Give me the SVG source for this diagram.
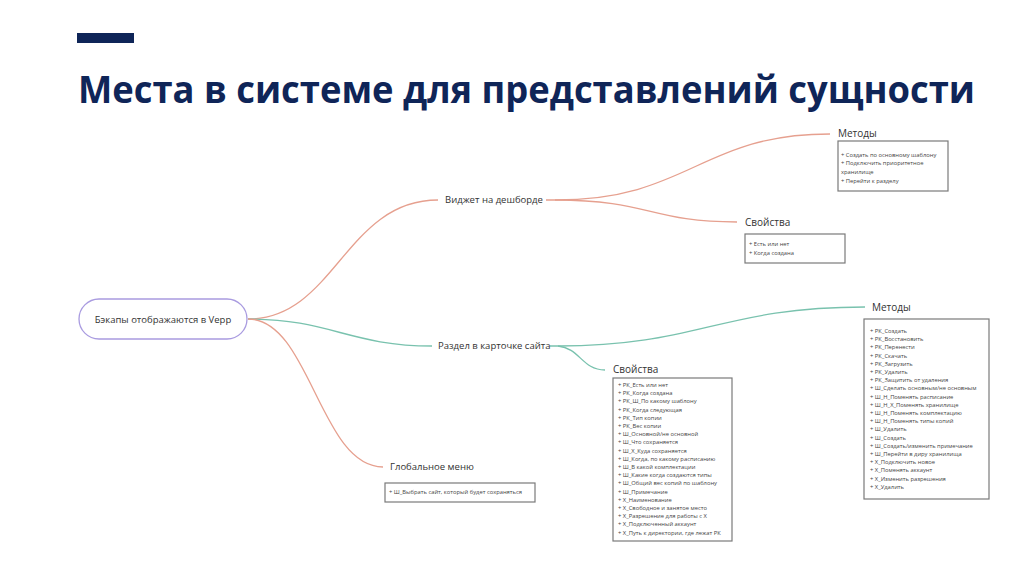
<svg xmlns="http://www.w3.org/2000/svg" width="1024" height="576" viewBox="0 0 1024 576">
<style>
.title{font-family:"Open Sans","Liberation Sans",sans-serif;font-weight:700;font-size:37px;fill:#0f2558}
.lbl{font-family:"Open Sans","Liberation Sans",sans-serif;font-size:9.5px;fill:#333}
.sub{font-family:"Open Sans","Liberation Sans",sans-serif;font-size:10px;fill:#333}
.it{font-family:"Open Sans","Liberation Sans",sans-serif;font-size:5.8px;fill:#444}
.box{fill:#fff;stroke:#7a7a7a;stroke-width:1.2}
.red{fill:none;stroke:#e6a08f;stroke-width:1.3}
.grn{fill:none;stroke:#79c2ae;stroke-width:1.3}
</style>
<rect width="1024" height="576" fill="#fff"/>
<rect x="77" y="33" width="57" height="10" fill="#0f2558"/>
<text class="title" x="78" y="103" textLength="897" lengthAdjust="spacingAndGlyphs">Места в системе для представлений сущности</text>

<g id="connectors">
<path class="red" d="M248,319 C335,319 345,200 438,200"/>
<path class="grn" d="M248,319 C330,319 350,346 432,346"/>
<path class="red" d="M248,319 C310,319 320,467 383,467"/>
<path class="red" d="M546,200 L555,200 C690,200 700,134 830,134"/>
<path class="red" d="M555,200 C650,200 650,222 737,222"/>
<path class="grn" d="M550,346 L558,346 C700,346 720,307 865,307"/>
<path class="grn" d="M558,346 C580,348 582,370 605,370"/>
</g>

<g id="root">
<rect x="79" y="299" width="168" height="40" rx="20" ry="20" fill="#fff" stroke="#a99be0" stroke-width="1.3"/>
<text class="lbl" x="163" y="323" text-anchor="middle">Бэкапы отображаются в Vepp</text>
</g>

<g id="widget">
<text class="lbl" x="445" y="203">Виджет на дешборде</text>
</g>
<g id="razdel">
<text class="lbl" x="438" y="349">Раздел в карточке сайта</text>
</g>
<g id="global">
<text class="lbl" x="390" y="470">Глобальное меню</text>
<rect class="box" x="385" y="483" width="150" height="19"/>
<text class="it" x="389" y="494">+ Ш_Выбрать сайт, который будет сохраняться</text>
</g>

<g id="widget-methods">
<text class="sub" x="838" y="137">Методы</text>
<rect class="box" x="838" y="141" width="110" height="50"/>
<text class="it" x="841" y="157">+ Создать по основному шаблону</text>
<text class="it" x="841" y="165">+ Подключить приоритетное</text>
<text class="it" x="841" y="174">хранилище</text>
<text class="it" x="841" y="183">+ Перейти к разделу</text>
</g>

<g id="widget-props">
<text class="sub" x="745" y="226">Свойства</text>
<rect class="box" x="745" y="234" width="100" height="29"/>
<text class="it" x="749" y="246">+ Есть или нет</text>
<text class="it" x="749" y="255">+ Когда создана</text>
</g>

<g id="razdel-methods">
<text class="sub" x="872" y="311">Методы</text>
<rect class="box" x="864" y="319" width="125" height="180"/>
<text class="it" x="870" y="333">+ РК_Создать</text>
<text class="it" x="870" y="341.2">+ РК_Восстановить</text>
<text class="it" x="870" y="349.4">+ РК_Перенести</text>
<text class="it" x="870" y="357.6">+ РК_Скачать</text>
<text class="it" x="870" y="365.8">+ РК_Загрузить</text>
<text class="it" x="870" y="374">+ РК_Удалить</text>
<text class="it" x="870" y="382.2">+ РК_Защитить от удаления</text>
<text class="it" x="870" y="390.4">+ Ш_Сделать основным/не основным</text>
<text class="it" x="870" y="398.6">+ Ш_Н_Поменять расписание</text>
<text class="it" x="870" y="406.8">+ Ш_Н_Х_Поменять хранилище</text>
<text class="it" x="870" y="415">+ Ш_Н_Поменять комплектацию</text>
<text class="it" x="870" y="423.2">+ Ш_Н_Поменять типы копий</text>
<text class="it" x="870" y="431.4">+ Ш_Удалить</text>
<text class="it" x="870" y="439.6">+ Ш_Создать</text>
<text class="it" x="870" y="447.8">+ Ш_Создать/изменить примечание</text>
<text class="it" x="870" y="456">+ Ш_Перейти в диру хранилища</text>
<text class="it" x="870" y="464.2">+ Х_Подключить новое</text>
<text class="it" x="870" y="472.4">+ Х_Поменять аккаунт</text>
<text class="it" x="870" y="480.6">+ Х_Изменить разрешения</text>
<text class="it" x="870" y="488.8">+ Х_Удалить</text>
</g>

<g id="razdel-props">
<text class="sub" x="613" y="373">Свойства</text>
<rect class="box" x="613" y="378" width="119" height="163"/>
<text class="it" x="618" y="387">+ РК_Есть или нет</text>
<text class="it" x="618" y="395.2">+ РК_Когда создана</text>
<text class="it" x="618" y="403.4">+ РК_Ш_По какому шаблону</text>
<text class="it" x="618" y="411.6">+ РК_Когда следующая</text>
<text class="it" x="618" y="419.8">+ РК_Тип копии</text>
<text class="it" x="618" y="428">+ РК_Вес копии</text>
<text class="it" x="618" y="436.2">+ Ш_Основной/не основной</text>
<text class="it" x="618" y="444.4">+ Ш_Что сохраняется</text>
<text class="it" x="618" y="452.6">+ Ш_Х_Куда сохраняется</text>
<text class="it" x="618" y="460.8">+ Ш_Когда, по какому расписанию</text>
<text class="it" x="618" y="469">+ Ш_В какой комплектации</text>
<text class="it" x="618" y="477.2">+ Ш_Какие когда создаются типы</text>
<text class="it" x="618" y="485.4">+ Ш_Общий вес копий по шаблону</text>
<text class="it" x="618" y="493.6">+ Ш_Примечание</text>
<text class="it" x="618" y="501.8">+ Х_Наименование</text>
<text class="it" x="618" y="510">+ Х_Свободное и занятое место</text>
<text class="it" x="618" y="518.2">+ Х_Разрешение для работы с Х</text>
<text class="it" x="618" y="526.4">+ Х_Подключенный аккаунт</text>
<text class="it" x="618" y="534.6">+ Х_Путь к директории, где лежат РК</text>
</g>
</svg>
